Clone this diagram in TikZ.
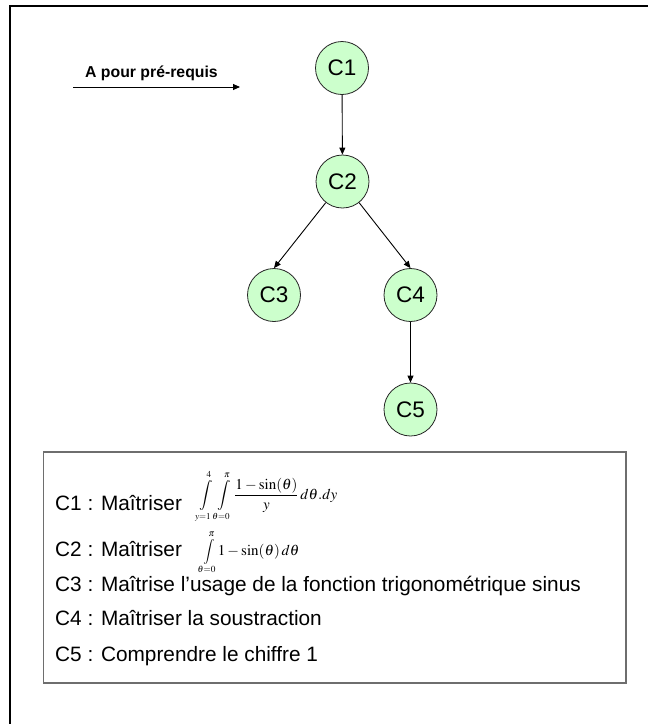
\documentclass[tikz,border=0pt]{standalone}
\usepackage{mathptmx}
\usepackage[no-math]{fontspec}
\setmainfont{Liberation Sans}
\usetikzlibrary{arrows.meta}
\definecolor{cfill}{RGB}{204,255,204}
\definecolor{boxgray}{RGB}{110,110,110}
\begin{document}
\begin{tikzpicture}[x=1pt,y=-1pt,
  comp/.style={circle, draw=black!85, line width=0.8pt, fill=cfill, minimum size=53pt, inner sep=0pt, font=\fontsize{22.5}{24}\selectfont},
  arr/.style={-{Triangle[length=7pt,width=6pt]}, line width=0.9pt},
  row/.style={anchor=base west, inner sep=0pt, font=\fontsize{20.8}{22}\selectfont},
  formula/.style={anchor=base west, inner sep=0pt, font=\fontsize{15}{16}\selectfont}]
\useasboundingbox (0,0) rectangle (648,724);
% outer frame (cropped)
\draw[line width=2pt] (10,725) -- (10,6) -- (649,6);
% legend
\coordinate (la) at (73,87);
\coordinate (lb) at (240,87);
\draw[arr] (la) -- (lb);
\node[anchor=base west, inner sep=0pt, font=\fontsize{15.8}{17}\selectfont\bfseries] (legend) at (85,77) {A pour pré-requis};
% competences
\node[comp] (C1) at (342,68) {C1};
\node[comp] (C2) at (342.5,181.5) {C2};
\node[comp] (C3) at (274,295) {C3};
\node[comp] (C4) at (410.5,295) {C4};
\node[comp] (C5) at (410.5,409.5) {C5};
\draw[arr] (C1) -- (C2);
\draw[arr] (C2) -- (C3.north);
\draw[arr] (C2) -- (C4.north);
\draw[arr] (C4) -- (C5);
% description box
\draw[line width=1.3pt, draw=boxgray] (43.5,452) rectangle (626,683);
\node[row] (r1) at (55,510.5) {C1 : Maîtriser};
\node[formula] (f1) at (198,499.5) {$\displaystyle\int\limits_{\scriptscriptstyle y=1}^{\scriptscriptstyle 4}\int\limits_{\scriptscriptstyle \theta=0}^{\scriptscriptstyle \pi}\frac{1-\sin(\theta)}{y}\,d\theta.dy$};
\node[row] (r2) at (55,556) {C2 : Maîtriser};
\node[formula] (f2) at (200,555) {\mbox{\fontsize{12.5}{13}\selectfont$\displaystyle\int\limits_{\scriptstyle\theta=0}^{\scriptstyle\pi}$}$1-\sin(\theta)\,d\theta$};
\node[row] (r3) at (55,591.5) {C3 : Maîtrise l’usage de la fonction trigonométrique sinus};
\node[row] (r4) at (55,625) {C4 : Maîtriser la soustraction};
\node[row] (r5) at (55,661.5) {C5 : Comprendre le chiffre 1};
\end{tikzpicture}
\end{document}
